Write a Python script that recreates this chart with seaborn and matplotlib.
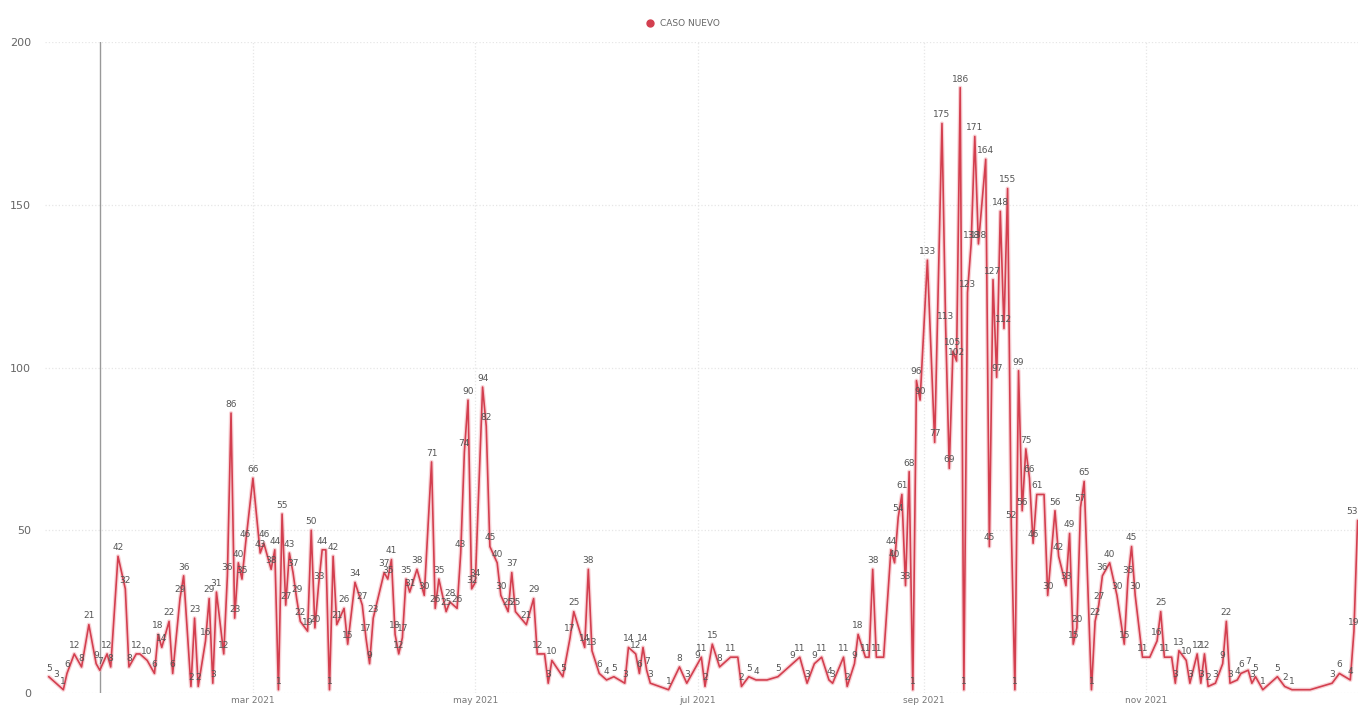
import numpy as np
import pandas as pd
import seaborn as sns
import matplotlib.pyplot as plt

# days since 2021-01-01 and new cases
dias = [3, 5, 7, 8, 10, 12, 14, 16, 17, 19, 20, 22, 24, 25, 27, 28, 30, 32, 33, 34,
        36, 37, 39, 40, 42, 43, 44, 46, 47, 48, 49, 51, 52, 53, 54, 55, 56, 57, 59,
        61, 62, 64, 65, 66, 67, 68, 69, 70, 71, 72, 74, 75, 76, 77, 78, 79, 80, 81, 82,
        84, 85, 87, 89, 90, 91, 92, 95, 96, 97, 98, 99, 100, 101, 102, 104, 106, 108,
        109, 110, 112, 113, 115, 116, 117, 118, 119, 120, 122, 123, 124,
        126, 127, 129, 130, 131, 134, 136, 137, 139, 140, 141, 144, 146, 147, 150, 151,
        152, 154, 156, 158, 161, 162, 164, 165, 166, 167, 168, 173, 176, 178, 181,
        182, 183, 185, 187, 190, 192, 193, 195, 197, 200, 203, 207, 209, 211, 213, 215,
        217, 218, 221, 222, 224,
        225, 227, 228, 229, 230, 232, 234, 235, 236, 237, 238, 239, 240, 241, 242, 244,
        246, 248, 249, 250, 251, 252, 253, 254, 255, 256, 257, 258, 260, 261, 262, 263,
        264, 265, 266, 267, 268, 269, 270, 271, 272, 273, 274, 276, 277, 279, 280, 282,
        283, 284, 285, 286, 287, 289, 290, 291, 292, 294, 296, 298, 299, 300, 301, 303,
        305, 307, 308, 309, 311, 312, 313, 315, 316, 318, 319, 320, 321, 323, 325, 326,
        327, 329, 330, 332, 333, 334, 336, 340, 342, 344, 349, 355, 357, 360, 361, 362]
casos = [5, 3, 1, 6, 12, 8, 21, 9, 7, 12, 8, 42, 32, 8, 12, 12, 10, 6, 18, 14,
         22, 6, 29, 36, 2, 23, 2, 16, 29, 3, 31, 12, 36, 86, 23, 40, 35, 46, 66,
         43, 46, 38, 44, 1, 55, 27, 43, 37, 29, 22, 19, 50, 20, 33, 44, 44, 1, 42, 21,
         26, 15, 34, 27, 17, 9, 23, 37, 35, 41, 18, 12, 17, 35, 31, 38, 30, 71,
         26, 35, 25, 28, 26, 43, 74, 90, 32, 34, 94, 82, 45,
         40, 30, 25, 37, 25, 21, 29, 12, 12, 3, 10, 5, 17, 25, 14, 38,
         13, 6, 4, 5, 3, 14, 12, 6, 14, 7, 3, 1, 8, 3, 9,
         11, 2, 15, 8, 11, 11, 2, 5, 4, 4, 5, 9, 11, 3, 9, 11,
         4, 3, 11, 2, 9,
         18, 11, 11, 38, 11, 11, 44, 40, 54, 61, 33, 68, 1, 96, 90, 133,
         77, 175, 113, 69, 105, 102, 186, 1, 123, 138, 171, 138, 164, 45, 127, 97,
         148, 112, 155, 52, 1, 99, 56, 75, 66, 46, 61, 61, 30, 56, 42, 33,
         49, 15, 20, 57, 65, 1, 22, 27, 36, 40, 30, 15, 35, 45, 30, 11,
         11, 16, 25, 11, 11, 3, 13, 10, 3, 12, 3, 12, 2, 3, 9, 22,
         3, 4, 6, 7, 3, 5, 1, 5, 2, 1, 1, 3, 6, 4, 19, 53]

meses = ["2021-03-01", "2021-05-01", "2021-07-01", "2021-09-01", "2021-11-01"]
meses_lbl = ["mar 2021", "may 2021", "jul 2021", "sep 2021", "nov 2021"]

inicio = pd.Timestamp("2021-01-01")
df = pd.DataFrame({"fecha": inicio + pd.to_timedelta(dias, unit="D"), "casos": casos})

sns.set_style("white")
plt.rcParams["font.family"] = ["DejaVu Sans"]

fig = plt.figure(figsize=(13.6, 7.09), dpi=100)
ax = fig.add_axes([0.033, 0.0226, 0.9655, 0.918])

color = "#d33f4f"
# soft halo under the line, like the original rendering
ax.plot(df["fecha"], df["casos"], color="#f2a6ae", lw=3, alpha=0.5, zorder=2)
sns.lineplot(data=df, x="fecha", y="casos", color=color, lw=1.2, ax=ax, zorder=3)

# data labels; a flat run of equal values gets a single label
prev = None
n = len(df)
for i, (f, v) in enumerate(zip(df["fecha"], df["casos"])):
    if v == prev:
        prev = v
        continue
    prev = v
    ha = "right" if i == n - 1 else "center"
    ax.annotate(str(v), (f, v), xytext=(0, 3), textcoords="offset points",
                ha=ha, va="bottom", fontsize=6.5, color="#555555", zorder=4)

ax.set_xlim(inicio + pd.Timedelta(days=1.94), inicio + pd.Timedelta(days=362.1))
ax.set_ylim(0, 200)
ax.set_yticks([0, 50, 100, 150, 200])
ax.set_xticks(pd.to_datetime(meses))
ax.set_xticklabels(meses_lbl)
ax.tick_params(axis="x", labelsize=6.5, colors="#777777", length=0, pad=2)
ax.tick_params(axis="y", labelsize=8, colors="#666666", length=0, pad=10)
ax.grid(True, color="#e6e6e6", ls=":", lw=0.9)
for s in ax.spines.values():
    s.set_visible(False)
ax.set_xlabel("")
ax.set_ylabel("")

# reference (cursor) line
ax.axvline(inicio + pd.Timedelta(days=17), color="#999999", lw=1, zorder=1)

# legend at the top
fig.legend(handles=[plt.Line2D([], [], marker="o", ls="", color=color, markersize=5)],
           labels=["CASO NUEVO"], loc="upper center", bbox_to_anchor=(0.5, 0.985),
           frameon=False, fontsize=6.5, handletextpad=0.1, labelcolor="#666666")

fig.savefig("out.png", dpi=100)
